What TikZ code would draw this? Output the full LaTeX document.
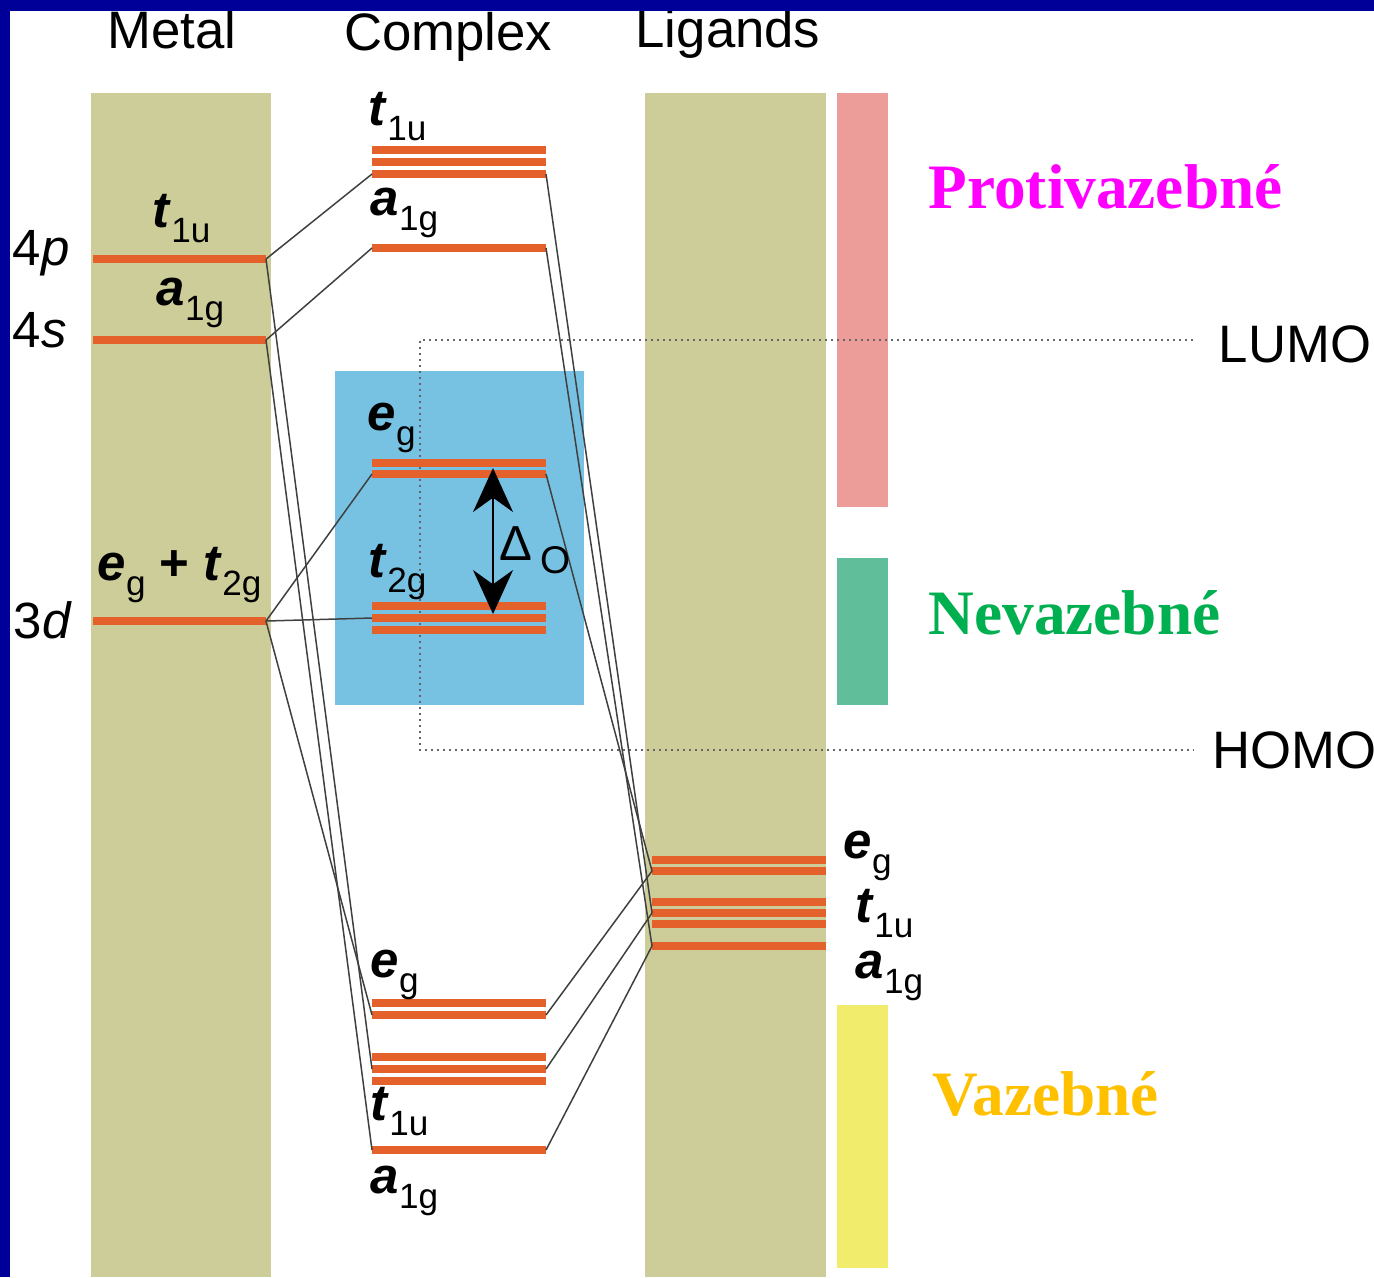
\documentclass[tikz,border=0pt]{standalone}
\usepackage{fontspec}
\setmainfont{Liberation Sans}
\newfontfamily\zonefont{Liberation Serif}
\usetikzlibrary{arrows.meta, positioning, calc}
\definecolor{navy}{HTML}{000099}
\definecolor{khaki}{HTML}{CDCD99}
\definecolor{lvlorange}{HTML}{E4612B}
\definecolor{boxblue}{HTML}{77C2E3}
\definecolor{antipink}{HTML}{EC9D99}
\definecolor{nongreen}{HTML}{60BE9A}
\definecolor{bondyellow}{HTML}{F2EC6C}
\definecolor{zmagenta}{HTML}{FF00FF}
\definecolor{zgreen}{HTML}{00B050}
\definecolor{zgold}{HTML}{FFC000}

% orbital symbol: bold italic letter, upright subscript
\newcommand{\orb}[2]{\textbf{\textit{#1}}\raisebox{-4.5pt}{\fontsize{10}{10}\selectfont #2}}

\begin{document}
\begin{tikzpicture}[
  x=0.1mm, y=-0.1mm,
  >={Stealth[length=4.4mm, width=4mm]},
  lvl/.style={draw=lvlorange, line width=0.85mm},
  conn/.style={draw=black!75, line width=0.15mm},
  dots/.style={draw=black!60, line width=0.2mm, dash pattern=on 0.25mm off 0.35mm},
  head/.style={font=\fontsize{15}{15}\selectfont, anchor=base, inner sep=0},
  orblab/.style={font=\fontsize{14.5}{14.5}\selectfont, anchor=base west, inner sep=0},
  zone/.style={font=\fontsize{18}{18}\selectfont\zonefont\bfseries, anchor=base west, inner sep=0},
]

% Background
\useasboundingbox (0,0) rectangle (1374,1277);
\fill[white] (0,0) rectangle (1374,1277);

% Columns and bars
\fill[khaki] (91,93) rectangle (271,1277);
\fill[khaki] (645,93) rectangle (826,1277);
\fill[antipink] (837,93) rectangle (888,507);
\fill[nongreen] (837,558) rectangle (888,705);
\fill[bondyellow] (837,1005) rectangle (888,1268);
\fill[boxblue] (335,371) rectangle (584,705);

% Headings
\node[head] (metal) at (172,48) {Metal};
\node[head] (complex) at (448,50) {Complex};
\node[head] (ligands) at (728,47) {Ligands};

% =============================================
% LUMO / HOMO
% =============================================
\node[head, anchor=base west] (lumo) at (1218,362) {LUMO};
\node[head, anchor=base west] (homo) at (1212,768) {HOMO};
\coordinate (lumo-e) at (1193,340);
\coordinate (homo-e) at (1193,750);
\draw[dots] (lumo-e) -- (420,340) -- (420,750) -- (homo-e);

% =============================================
% Levels
% =============================================
% Metal
\draw[lvl] (93,259) -- (266,259) coordinate (m4p);
\draw[lvl] (93,340) -- (266,340) coordinate (m4s);
\draw[lvl] (93,621) -- (266,621) coordinate (m3d);

% Complex, antibonding
\draw[lvl] (372,150) -- (546,150);
\draw[lvl] (372,162) -- (546,162);
\draw[lvl] (372,174) coordinate (at1u-l) -- (546,174) coordinate (at1u-r);
\draw[lvl] (372,248) coordinate (aa1g-l) -- (546,248) coordinate (aa1g-r);
\draw[lvl] (372,463) -- (546,463);
\draw[lvl] (372,474) coordinate (aeg-l) -- (546,474) coordinate (aeg-r);

% Complex, nonbonding
\draw[lvl] (372,606) -- (546,606);
\draw[lvl] (372,618) coordinate (nt2g-l) -- (546,618);
\draw[lvl] (372,630) -- (546,630);

% Complex, bonding
\draw[lvl] (372,1003) -- (546,1003);
\draw[lvl] (372,1015) coordinate (beg-l) -- (546,1015) coordinate (beg-r);
\draw[lvl] (372,1057) -- (546,1057);
\draw[lvl] (372,1069) coordinate (bt1u-l) -- (546,1069) coordinate (bt1u-r);
\draw[lvl] (372,1081) -- (546,1081);
\draw[lvl] (372,1150) coordinate (ba1g-l) -- (546,1150) coordinate (ba1g-r);

% Ligands
\draw[lvl] (652,860) -- (826,860);
\draw[lvl] (652,871) coordinate (leg) -- (826,871);
\draw[lvl] (652,902) -- (826,902);
\draw[lvl] (652,913) coordinate (lt1u) -- (826,913);
\draw[lvl] (652,924) -- (826,924);
\draw[lvl] (652,946) coordinate (la1g) -- (826,946);

% =============================================
% Connectors
% =============================================
\draw[conn] (m4p) -- (at1u-l);
\draw[conn] (m4p) -- (bt1u-l);
\draw[conn] (m4s) -- (aa1g-l);
\draw[conn] (m4s) -- (ba1g-l);
\draw[conn] (m3d) -- (aeg-l);
\draw[conn] (m3d) -- (nt2g-l);
\draw[conn] (m3d) -- (beg-l);
\draw[conn] (at1u-r) -- (lt1u);
\draw[conn] (bt1u-r) -- (lt1u);
\draw[conn] (aa1g-r) -- (la1g);
\draw[conn] (ba1g-r) -- (la1g);
\draw[conn] (aeg-r) -- (leg);
\draw[conn] (beg-r) -- (leg);

% Splitting
\coordinate (dtop) at (493,468);
\coordinate (dbot) at (493,614);
\draw[<->, line width=0.15mm] (dtop) -- (dbot);
\node[orblab, font=\fontsize{14}{14}\selectfont] (delta) at (499,560)
  {Δ\,\raisebox{-3.7pt}{\fontsize{11}{11}\selectfont O}};

% =============================================
% Orbital labels
% =============================================
\node[orblab] (l4p) at (12,265) {4\textit{p}};
\node[orblab] (l4s) at (12,347) {4\textit{s}};
\node[orblab] (l3d) at (13,638) {3\textit{d}};
\node[orblab] (mt1u) at (152,227) {\orb{t}{1u}};
\node[orblab] (ma1g) at (156,305) {\orb{a}{1g}};
\node[orblab] (md) at (97,580) {\orb{e}{g} \textbf{+} \orb{t}{2g}};

\node[orblab] (ct1u) at (368,125) {\orb{t}{1u}};
\node[orblab] (ca1g) at (370,215) {\orb{a}{1g}};
\node[orblab] (ceg) at (367,430) {\orb{e}{g}};
\node[orblab] (ct2g) at (368,577) {\orb{t}{2g}};
\node[orblab] (cbeg) at (370,977) {\orb{e}{g}};
\node[orblab] (cbt1u) at (370,1120) {\orb{t}{1u}};
\node[orblab] (cba1g) at (370,1193) {\orb{a}{1g}};

\node[orblab] (leglab) at (843,858) {\orb{e}{g}};
\node[orblab] (lt1ulab) at (855,922) {\orb{t}{1u}};
\node[orblab] (la1glab) at (855,978) {\orb{a}{1g}};

% Zones
\node[zone, text=zmagenta] (anti) at (928,208) {Protivazebné};
\node[zone, text=zgreen] (non) at (928,634) {Nevazebné};
\node[zone, text=zgold] (bond) at (932,1115) {Vazebné};

% Frame
\fill[navy] (0,0) rectangle (1374,11);
\fill[navy] (0,0) rectangle (10,1277);

\end{tikzpicture}
\end{document}
